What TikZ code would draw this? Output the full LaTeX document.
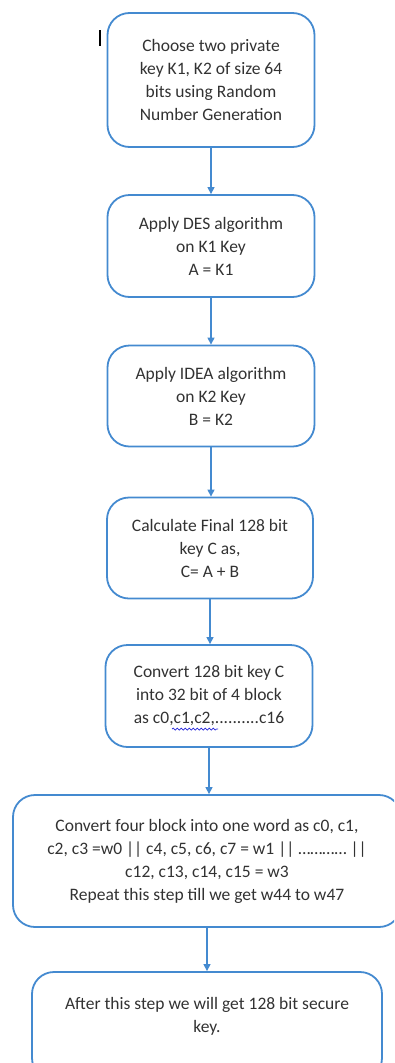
\documentclass[tikz,border=0pt]{standalone}
\usepackage{fontspec}
\setmainfont{Carlito}
\usetikzlibrary{arrows.meta,decorations.pathmorphing}
\definecolor{flowblue}{RGB}{68,138,208}
\definecolor{flowtext}{RGB}{50,50,50}
\definecolor{squig}{RGB}{40,40,220}
\tikzset{
  boxfont/.style={align=center, text=flowtext, inner sep=0pt,
    font=\fontsize{17.5}{23}\selectfont},
  stepbox/.style={draw=flowblue, line width=1.8pt, rounded corners=22pt, boxfont},
  flow/.style={draw=flowblue, line width=1.2pt,
    -{Triangle[length=7pt,width=7pt]}},
  spellwave/.style={draw=squig, line width=0.7pt,
    decorate, decoration={snake, amplitude=1pt, segment length=4pt}}
}
\begin{document}
\begin{tikzpicture}[x=1pt,y=-1pt]
\useasboundingbox (0,0) rectangle (394,1063);
\begin{scope}
\clip (0,0) rectangle (394,1063);
\node[stepbox, minimum width=207pt, minimum height=134pt] (b1) at (211,80)
  {Choose two private\\key K1, K2 of size 64\\bits using Random\\Number Generation};
\node[stepbox, minimum width=207pt, minimum height=102pt] (b2) at (211,246)
  {Apply DES algorithm\\on K1 Key\\A = K1};
\node[stepbox, minimum width=207pt, minimum height=101pt] (b3) at (211,396)
  {Apply IDEA algorithm\\on K2 Key\\B = K2};
\node[stepbox, minimum width=206pt, minimum height=101pt] (b4) at (210,548)
  {Calculate Final 128 bit\\key C as,\\C= A + B};
\node[stepbox, minimum width=207pt, minimum height=102pt] (b5) at (209,696)
  {Convert 128 bit key C\\into 32 bit of 4 block\\as c0,c1,c2,..........c16};
\node[stepbox, minimum width=388pt, minimum height=132pt] (b6) at (207,861)
  {Convert four block into one word as c0, c1,\\c2, c3 =w0 || c4, c5, c6, c7 = w1 || ………… ||\\c12, c13, c14, c15 = w3\\Repeat this step till we get w44 to w47};
% the last box runs past the lower edge; its text sits in the visible part
\node[stepbox, minimum width=350pt, minimum height=108pt,
  label={[name=b7text, boxfont, yshift=10pt]center:{After this step we will get 128 bit secure\\key.}}]
  (b7) at (207,1026) {};
\end{scope}
% spell-check underline beneath "c1,c2,"
\draw[spellwave] ([xshift=-37pt,yshift=-33pt]b5.center) -- ([xshift=9pt,yshift=-33pt]b5.center);
\draw[flow] (b1.south) -- (b1.south |- b2.north);
\draw[flow] (b2.south) -- (b2.south |- b3.north);
\draw[flow] (b3.south) -- (b3.south |- b4.north);
\draw[flow] (b4.south) -- (b4.south |- b5.north);
\draw[flow] (b5.south) -- (b5.south |- b6.north);
\draw[flow] (b6.south) -- (b6.south |- b7.north);
% text cursor mark left of the first box
\coordinate (cur) at (100,30);
\draw[black, line width=1.3pt] (cur) -- ++(0,16);
\end{tikzpicture}
\end{document}
